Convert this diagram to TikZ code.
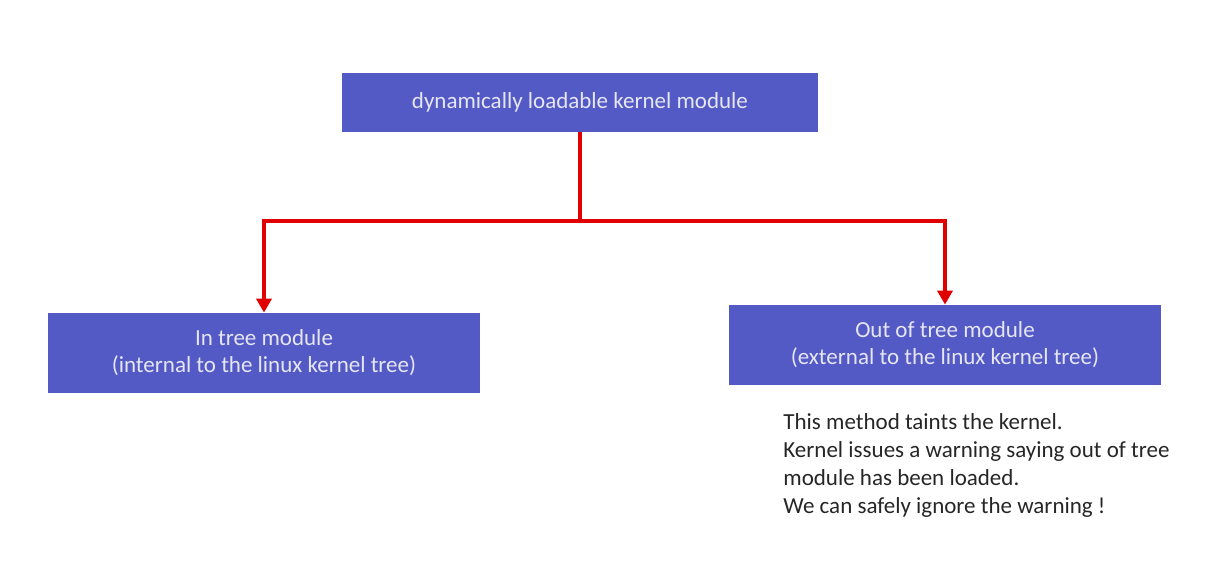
\documentclass[tikz,border=0pt]{standalone}
\usepackage{fontspec}
\setmainfont{Carlito}
\usepackage{xcolor}
\usetikzlibrary{arrows.meta}
\definecolor{boxblue}{HTML}{535AC6}
\definecolor{boxtext}{HTML}{E6E6F2}
\definecolor{linkred}{HTML}{E00000}

\begin{document}
\begin{tikzpicture}[x=0.5pt,y=-0.5pt,font=\fontsize{11.5}{13.5}\selectfont,
	modbox/.style={fill=boxblue,text=boxtext,align=center,inner sep=0pt},
	link/.style={draw=linkred,line width=2pt,-{Triangle[length=7pt,width=7.5pt]}}]
		\useasboundingbox (0,0) rectangle (1207,565);
		\node[modbox,minimum width=238pt,minimum height=29.5pt] (M) at (580,102.5) {dynamically loadable kernel module};
		\node[modbox,minimum width=216pt,minimum height=40pt] (I) at (264,353) {In tree module\\(internal to the linux kernel tree)};
		\node[modbox,minimum width=216pt,minimum height=40pt] (O) at (945,345) {Out of tree module\\(external to the linux kernel tree)};
		\coordinate (split) at (580,221);
		\node[anchor=north west,align=left,inner sep=0pt,text=black!85,font=\fontsize{11.5}{14}\selectfont] (note) at (783,413)
		  {This method taints the kernel.\\Kernel issues a warning saying out of tree\\module has been loaded.\\We can safely ignore the warning !};
		\draw[draw=linkred,line width=2pt] (M.south) -- (split);
		\path
		(split) edge[link,to path={-| (\tikztotarget)}] (I.north)
		        edge[link,to path={-| (\tikztotarget)}] (O.north);
	\end{tikzpicture}
\end{document}
